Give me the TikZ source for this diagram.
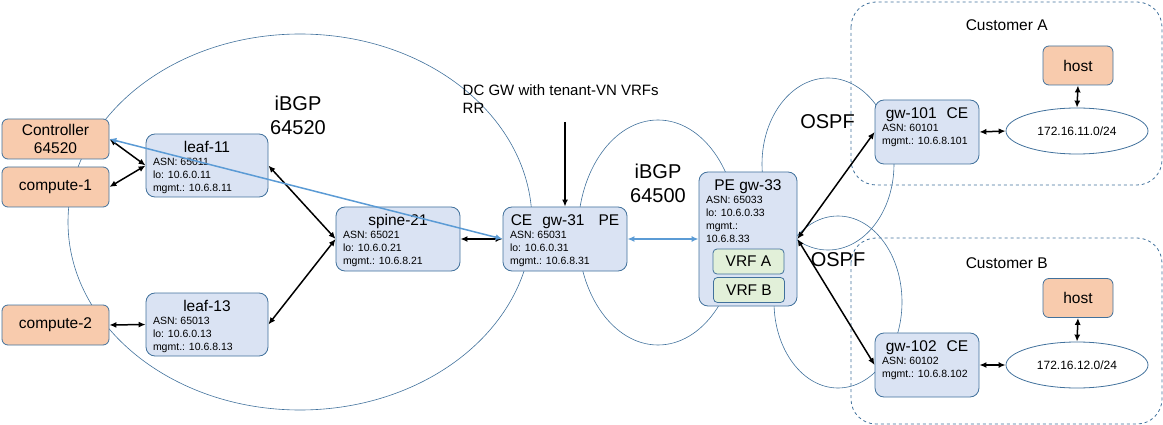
\documentclass[tikz,border=0pt]{standalone}
\usepackage{fontspec}
\setmainfont{Liberation Sans}
\usepackage{tikz}
\usetikzlibrary{shapes.geometric}
\usetikzlibrary{arrows.meta}
\definecolor{boxfill}{HTML}{DAE3F3}
\definecolor{boxline}{HTML}{41719C}
\definecolor{hostfill}{HTML}{F8CBAD}
\definecolor{vrffill}{HTML}{E2F0D9}
\definecolor{linkblue}{HTML}{5B9BD5}
% box text: height, width, title, details
\newcommand\devtext[4]{\parbox[t][#1pt][t]{#2pt}{\centering\rule{0pt}{15.2pt}{\fontsize{15.5}{17}\selectfont #3}\par\raggedright\fontsize{10.5}{13}\selectfont #4}}

\begin{document}
\begin{tikzpicture}[x=1pt, y=-1pt,
  dev/.style={draw=boxline, fill=boxfill, line width=0.8pt, rounded corners=9pt, inner xsep=7pt, inner ysep=3.5pt},
  host/.style={draw=boxline, fill=hostfill, line width=0.8pt, rounded corners=6pt, align=center, minimum width=107pt, minimum height=40pt, inner sep=0pt, font=\fontsize{15.5}{18.7}\selectfont},
  vrf/.style={draw=boxline, fill=vrffill, line width=0.8pt, rounded corners=4pt, minimum width=71pt, minimum height=25pt, inner sep=0pt, font=\fontsize{15.5}{17}\selectfont},
  net/.style={ellipse, draw=boxline, fill=white, line width=0.8pt, minimum width=142pt, minimum height=46pt, inner sep=0pt, font=\fontsize{12}{14}\selectfont},
  ring/.style={draw=boxline, line width=0.6pt},
  cust/.style={draw=boxline, dashed, line width=0.8pt, rounded corners=25pt},
  big/.style={font=\fontsize{20}{24}\selectfont, align=center, inner sep=0pt},
  link/.style={line width=1.5pt, {Latex[length=7pt,width=6pt]}-{Latex[length=7pt,width=6pt]}},
  bluelink/.style={link, linkblue}]
\useasboundingbox (0,0) rectangle (1163,425);
%
\draw[ring] (300,222) ellipse [x radius=232pt, y radius=188pt];
\draw[ring] (658,232.5) ellipse [x radius=80pt, y radius=112.5pt];
\draw[ring] (828,164) ellipse [x radius=66pt, y radius=86pt];
\draw[ring] (838,302) ellipse [x radius=64pt, y radius=86pt];
%
\draw[cust] (851,2) rectangle (1162,185);
\draw[cust] (851,238) rectangle (1162,424);
%
\node[big] (ibgpa) at (298,115) {iBGP\\64520};
\node[big] (ibgpb) at (658,183) {iBGP\\64500};
\node[big] (ospfa) at (827.5,121.3) {OSPF};
\node[big] (ospfb) at (838,259.5) {OSPF};
\node[inner sep=0pt, font=\fontsize{15.5}{18}\selectfont] (custa) at (1006.7,25) {Customer A};
\node[inner sep=0pt, font=\fontsize{15.5}{18}\selectfont] (custb) at (1006.7,262.7) {Customer B};
\node[anchor=north west, align=left, inner sep=0pt, font=\fontsize{15}{18.3}\selectfont] (dcgw) at (462.5,84) {DC GW with tenant-VN VRFs\\RR};
\coordinate (rrtop) at (565,122);
%
\node[host] (ctrl) at (55.5,139) {Controller\\64520};
\node[host] (comp1) at (55.5,187) {compute-1};
\node[host] (comp2) at (55.5,325) {compute-2};
%
\node[dev] (leaf11) at (207,165.5) {\devtext{56}{108}{leaf-11}{ASN: 65011\\lo: 10.6.0.11\\mgmt.: 10.6.8.11}};
\node[dev] (leaf13) at (207,324.5) {\devtext{56}{108}{leaf-13}{ASN: 65013\\lo: 10.6.0.13\\mgmt.: 10.6.8.13}};
\node[dev] (spine21) at (398,239) {\devtext{57}{110}{spine-21}{ASN: 65021\\lo: 10.6.0.21\\mgmt.: 10.6.8.21}};
\node[dev] (gw31) at (565,239) {\devtext{57}{110}{CE\hspace{10pt}gw-31\hspace{14pt}PE}{ASN: 65031\\lo: 10.6.0.31\\mgmt.: 10.6.8.31}};
\node[dev] (gw33) at (748,239) {\devtext{127}{84}{PE gw-33}{ASN: 65033\\lo: 10.6.0.33\\mgmt.:\\10.6.8.33}};
\node[vrf] (vrfa) at (748.5,261.5) {VRF A};
\node[vrf] (vrfb) at (749,290) {VRF B};
\node[dev] (gw101) at (927,132) {\devtext{57}{90}{gw-101\hspace{10pt}CE}{ASN: 60101\\mgmt.: 10.6.8.101}};
\node[dev] (gw102) at (927,365) {\devtext{57}{90}{gw-102\hspace{10pt}CE}{ASN: 60102\\mgmt.: 10.6.8.102}};
%
\node[net] (net11) at (1077,131) {172.16.11.0/24};
\node[net] (net12) at (1077,365) {172.16.12.0/24};
\node[host, minimum width=70pt, minimum height=39pt] (hosta) at (1078,65.5) {host};
\node[host, minimum width=70pt, minimum height=39pt] (hostb) at (1078,298) {host};
%
\draw[link] (ctrl.east) -- (leaf11.west);
\draw[link] (comp1.east) -- (leaf11.west);
\draw[link] (comp2.east) -- (leaf13.west);
\draw[link] (leaf11.east) -- (spine21.west);
\draw[link] (leaf13.east) -- (spine21.west);
\draw[link] (spine21.east) -- (gw31.west);
\draw[line width=1.5pt, -{Latex[length=7pt,width=6pt]}] (rrtop) -- (gw31.north);
\draw[bluelink] (gw31.west) -- (ctrl.east);
\draw[bluelink] (gw31.east) -- (gw33.west);
\draw[link] (gw33.east) -- (gw101.west);
\draw[link] (gw33.east) -- (gw102.west);
\draw[link] (gw101.east) -- (net11.west);
\draw[link] (gw102.east) -- (net12.west);
\draw[link] (hosta.south) -- (net11.north);
\draw[link] (hostb.south) -- (net12.north);
\end{tikzpicture}
\end{document}
